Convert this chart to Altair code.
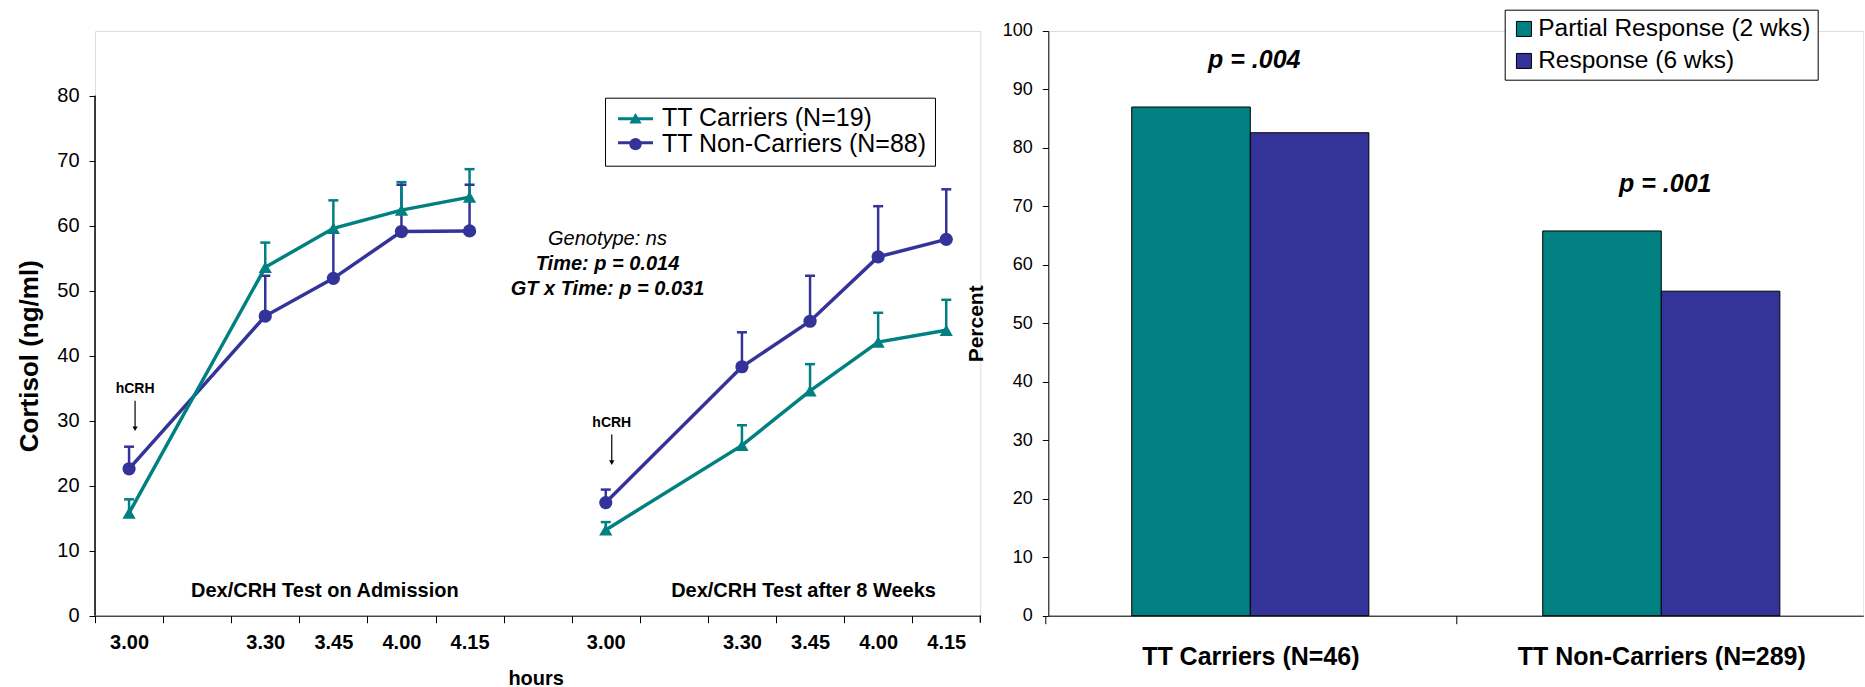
import altair as alt
import pandas as pd

# ---------------- data ----------------
times = ["3.00", "3.30", "3.45", "4.00", "4.15"]
tests = ["Dex/CRH Test on Admission", "Dex/CRH Test after 8 Weeks"]
series_names = ["TT Carriers (N=19)", "TT Non-Carriers (N=88)"]

carriers_adm = [15.8, 53.6, 59.6, 62.4, 64.4]
carriers_adm_sem = [2.1, 3.8, 4.3, 4.3, 4.3]
noncarriers_adm = [22.6, 46.1, 51.9, 59.1, 59.2]
noncarriers_adm_sem = [3.4, 6.2, 7.1, 7.2, 7.1]
carriers_8w = [13.2, 26.2, 34.6, 42.1, 43.9]
carriers_8w_sem = [1.2, 3.1, 4.1, 4.5, 4.7]
noncarriers_8w = [17.4, 38.3, 45.3, 55.2, 57.9]
noncarriers_8w_sem = [2.0, 5.3, 7.0, 7.8, 7.7]

# category slots of the x axis (the source uses empty categories as gaps)
slot_keys = ["A3.00", "Agap", "A3.30", "A3.45", "A4.00", "A4.15", "gap",
             "B3.00", "Bgap", "B3.30", "B3.45", "B4.00", "B4.15"]

stats_lines = ["Genotype: ns", "Time: p = 0.014", "GT x Time: p = 0.031"]

bar_groups = ["TT Carriers (N=46)", "TT Non-Carriers (N=289)"]
bar_measures = ["Partial Response (2 wks)", "Response (6 wks)"]
partial_response = [87.0, 65.8]
response_6wk = [82.6, 55.5]
p_labels = ["p = .004", "p = .001"]

# ---------------- styling / layout ----------------
FONT = "Liberation Sans"
TEAL = "#008080"
INDIGO = "#333399"
H = 584.7            # plot height shared by both panels
BAND = 68.1
WL = BAND * len(slot_keys)
WR = 815
Y80_TOP = 64.7       # pixel row of value 80 in the left panel
YMAX_LEFT = 80 * H / (H - Y80_TOP)

# ---------------- tables ----------------
groups = [
    ("A", tests[0], carriers_adm, carriers_adm_sem, noncarriers_adm, noncarriers_adm_sem),
    ("B", tests[1], carriers_8w, carriers_8w_sem, noncarriers_8w, noncarriers_8w_sem),
]
rows = []
for code, test, cv, cs, nv, ns in groups:
    for i, t in enumerate(times):
        rows.append(dict(slot=code + t, test=test, series=series_names[1],
                         value=nv[i], top=nv[i] + ns[i]))
for code, test, cv, cs, nv, ns in groups:
    for i, t in enumerate(times):
        rows.append(dict(slot=code + t, test=test, series=series_names[0],
                         value=cv[i], top=cv[i] + cs[i]))
line_df = pd.DataFrame(rows)

hcrh_df = pd.DataFrame({
    "slot": ["A3.00", "B3.00"],
    "value": [noncarriers_adm[0], noncarriers_8w[0]],
    "label": ["hCRH", "hCRH"],
})

bar_rows = []
for g, a, b in zip(bar_groups, partial_response, response_6wk):
    bar_rows.append(dict(group=g, measure=bar_measures[0], pct=a))
    bar_rows.append(dict(group=g, measure=bar_measures[1], pct=b))
bar_df = pd.DataFrame(bar_rows)
p_df = pd.DataFrame({"group": bar_groups, "label": p_labels,
                     "peak": [max(a, b) for a, b in zip(partial_response, response_6wk)]})
series_df = pd.DataFrame({"series": series_names})

# ---------------- left panel ----------------
x_left = alt.X(
    "slot:N",
    scale=alt.Scale(type="band", domain=slot_keys, paddingInner=0, paddingOuter=0),
    axis=alt.Axis(
        title="hours",
        labelExpr="indexof(datum.value,'gap')>=0 ? '' : slice(datum.value,1)",
        tickOffset=-BAND / 2, labelOffset=BAND / 2,
        labelAngle=0, labelFont=FONT, labelFontSize=20,
        labelFontWeight="bold", labelColor="black", labelPadding=10,
        tickSize=7, tickColor="black", domainColor="black", grid=False,
        labelOverlap=False,
        titleFont=FONT, titleFontSize=20, titleFontWeight="bold", titleColor="black",
        titleX=WL / 2 - 2, titleY=63, titleBaseline="middle", titleAlign="center",
    ),
)

y_scale_left = alt.Scale(domain=[0, YMAX_LEFT], nice=False, zero=True)


def y_left(field):
    return alt.Y(
        field,
        scale=y_scale_left,
        axis=alt.Axis(
            values=list(range(0, 81, 10)), title="Cortisol (ng/ml)", grid=False, domain=False,
            labelFont=FONT, labelFontSize=20, labelColor="black", labelPadding=10,
            tickSize=6, tickColor="black",
            titleFont=FONT, titleFontSize=26, titleFontWeight="bold", titleColor="black",
            titleX=-66, titleY=(H + Y80_TOP) / 2, titleBaseline="middle", titleAlign="center",
        ),
    )


color_left = alt.Scale(domain=series_names, range=[TEAL, INDIGO])
shape_left = alt.Scale(domain=series_names, range=["triangle-up", "circle"])
is_carrier = alt.datum.series == series_names[0]
series_color = alt.condition(is_carrier, alt.value(TEAL), alt.value(INDIGO))

base = alt.Chart(line_df)

# y axis line (0 .. 80 only, as in the source) and closing x tick
axis_line = alt.Chart(series_df).mark_rule(color="black", strokeWidth=1).encode(
    x=alt.value(0), y=alt.value(H), y2=alt.value(Y80_TOP)
)
end_tick = alt.Chart(series_df).mark_rule(color="black", strokeWidth=1).encode(
    x=alt.value(WL), y=alt.value(H), y2=alt.value(H + 7)
)

err_rule = base.mark_rule(strokeWidth=2.5).encode(
    x=x_left, y=y_left("value:Q"), y2="top:Q", color=series_color,
)
err_cap = base.mark_tick(size=10, thickness=2.5, opacity=1).encode(
    x=x_left, y=y_left("top:Q"), color=series_color,
)
lines = base.mark_line(strokeWidth=3.5).encode(
    x=x_left, y=y_left("value:Q"), color=series_color,
    detail=["test:N", "series:N"],
)

legend_left = dict(
    orient="none", legendX=510, legendY=66.7, title=None, direction="vertical",
    labelFont=FONT, labelFontSize=25, labelColor="black", labelOffset=14, labelLimit=0,
    symbolOffset=10, symbolSize=150, symbolStrokeWidth=0, symbolOpacity=1,
    padding=8, rowPadding=0, strokeColor="black", cornerRadius=0,
)
points = base.mark_point(filled=True, opacity=1, size=175).encode(
    x=x_left, y=y_left("value:Q"),
    color=alt.Color("series:N", scale=color_left, legend=alt.Legend(**legend_left)),
    shape=alt.Shape("series:N", scale=shape_left, legend=alt.Legend(**legend_left)),
)


# coloured line segments drawn behind the legend symbols
def legend_line(k, py):
    return alt.Chart(series_df).transform_filter(
        alt.datum.series == series_names[k]
    ).mark_rule(strokeWidth=3, color=[TEAL, INDIGO][k]).encode(
        x=alt.value(523), x2=alt.value(558), y=alt.value(py),
    )


hcrh_text = alt.Chart(hcrh_df).mark_text(
    font=FONT, fontSize=14, fontWeight="bold", baseline="middle", align="center", dx=6, dy=-80
).encode(x=x_left, y=y_left("value:Q"), text="label:N")
hcrh_line = alt.Chart(hcrh_df).mark_rule(
    strokeWidth=1.2, color="black", xOffset=6, yOffset=-68, y2Offset=-41
).encode(x=x_left, y=y_left("value:Q"), y2="value:Q")
hcrh_head = alt.Chart(hcrh_df).mark_point(
    shape="triangle-down", filled=True, opacity=1, size=28, color="black", xOffset=6, yOffset=-40
).encode(x=x_left, y=y_left("value:Q"))

stats_df = pd.DataFrame({"t": stats_lines, "row": [0, 1, 2]})


def stat_layer(row, py, weight):
    return alt.Chart(stats_df).transform_filter(f"datum.row == {row}").mark_text(
        font=FONT, fontSize=20, fontStyle="italic", fontWeight=weight,
        align="center", baseline="middle",
    ).encode(x=alt.value(512.5), y=alt.value(py), text="t:N")


stats_layers = [stat_layer(0, 207.7, "normal"), stat_layer(1, 233.0, "bold"), stat_layer(2, 258.3, "bold")]

panel_df = pd.DataFrame({"t": tests, "k": [0, 1]})


def panel_layer(k, px):
    return alt.Chart(panel_df).transform_filter(f"datum.k == {k}").mark_text(
        font=FONT, fontSize=20, fontWeight="bold", align="center", baseline="middle"
    ).encode(x=alt.value(px), y=alt.value(559.7), text="t:N")


left = alt.layer(
    legend_line(0, 87.7), legend_line(1, 111.7),
    err_rule, err_cap, lines, points, axis_line, end_tick,
    hcrh_text, hcrh_line, hcrh_head, *stats_layers,
    panel_layer(0, 229.8), panel_layer(1, 708.5),
).properties(width=WL, height=H)

# ---------------- right panel ----------------
PI, PO = 0.423, 0.203
STEP = WR / (2 - PI + 2 * PO)
x_right = alt.X(
    "group:N",
    scale=alt.Scale(domain=bar_groups, paddingInner=PI, paddingOuter=PO),
    axis=alt.Axis(
        title=None, labelAngle=0, labelFont=FONT, labelFontSize=25, labelFontWeight="bold",
        labelColor="black", labelPadding=21, tickSize=8, tickColor="black", labelLimit=0,
        domainColor="black", grid=False, tickOffset=-STEP / 2, labelOffset=STEP / 2,
    ),
)
y_right_scale = alt.Scale(domain=[0, 100], nice=False)


def y_right(field):
    return alt.Y(
        field, scale=y_right_scale,
        axis=alt.Axis(
            values=list(range(0, 101, 10)), title="Percent", grid=False,
            labelFont=FONT, labelFontSize=18, labelColor="black", labelPadding=10,
            tickSize=6, tickColor="black", domainColor="black",
            titleFont=FONT, titleFontSize=21, titleFontWeight="bold", titleColor="black",
            titleX=-72, titleY=H / 2, titleBaseline="middle", titleAlign="center",
        ),
    )


bars = alt.Chart(bar_df).mark_bar(stroke="black", strokeWidth=1, opacity=1).encode(
    x=x_right,
    xOffset=alt.XOffset("measure:N", scale=alt.Scale(domain=bar_measures)),
    y=y_right("pct:Q"),
    color=alt.Color(
        "measure:N", scale=alt.Scale(domain=bar_measures, range=[TEAL, INDIGO]),
        legend=alt.Legend(
            orient="none", legendX=456.4, legendY=-21.3, title=None, direction="vertical",
            labelFont=FONT, labelFontSize=24.5, labelColor="black", labelOffset=2, labelLimit=0,
            symbolType="square", symbolSize=225, symbolStrokeColor="black", symbolStrokeWidth=1,
            symbolOpacity=1, padding=7, rowPadding=7, strokeColor="black", fillColor="white",
            cornerRadius=0,
        ),
    ),
)
p_text = alt.Chart(p_df).transform_calculate(ypos="datum.peak + 8").mark_text(
    font=FONT, fontSize=25, fontWeight="bold", fontStyle="italic", baseline="middle",
    align="center", dx=4,
).encode(x=x_right, y=y_right("ypos:Q"), text="label:N")

right = alt.layer(bars, p_text).properties(width=WR, height=H)

chart = (
    alt.hconcat(left, right, spacing=67.3, bounds="flush")
    .resolve_scale(color="independent", shape="independent", x="independent", y="independent")
    .properties(padding={"left": 15, "top": 8, "right": 0, "bottom": 0})
    .configure_view(stroke=None)
    .configure(font=FONT)
)

chart.save("out.html", embed_options={"renderer": "svg", "actions": False})
